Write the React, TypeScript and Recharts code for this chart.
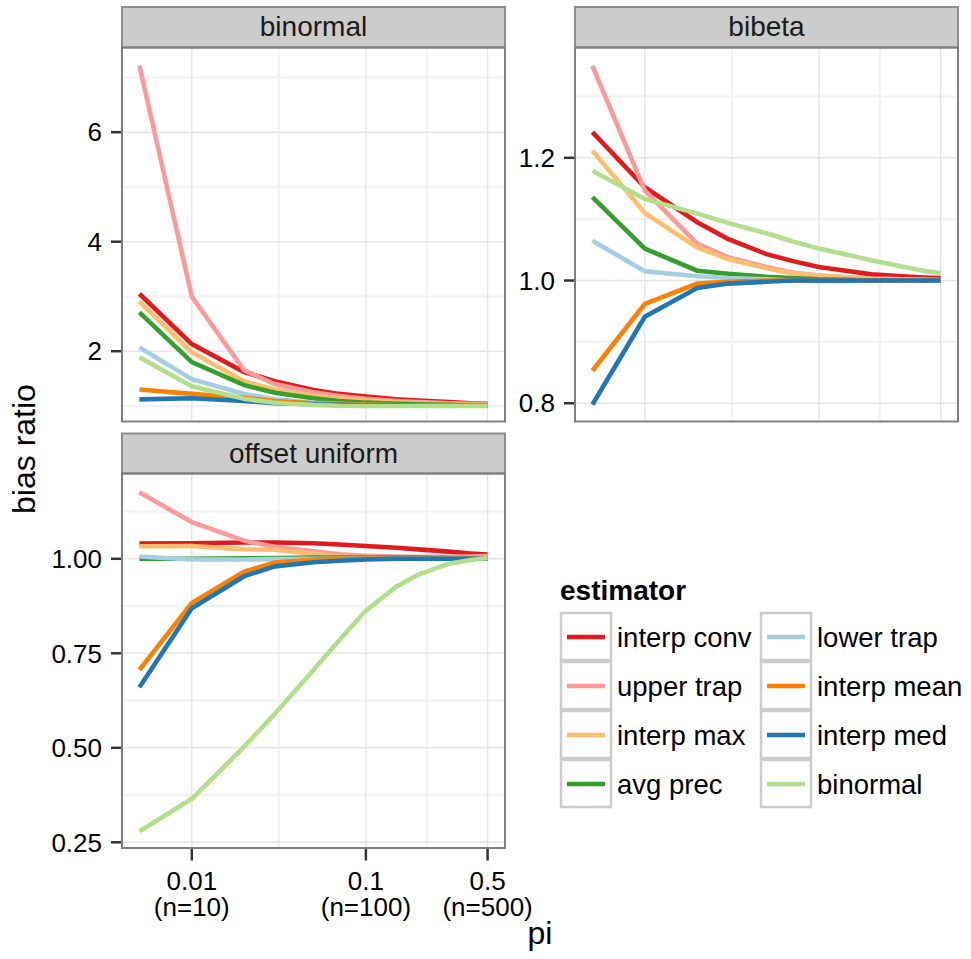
import { useMemo } from 'react'
import { LineChart, Line, XAxis, YAxis, CartesianGrid } from 'recharts'

const FONT = '"Liberation Sans", Arial, Helvetica, sans-serif'

// prevalence values along the x axis (n = pi * 1000)
const piValues = [0.005, 0.01, 0.02, 0.03, 0.05, 0.07, 0.1, 0.15, 0.2, 0.3, 0.4, 0.5]

const xTickValues = [0.01, 0.1, 0.5]
const xTickLabels = ['0.01', '0.1', '0.5']
const xTickCounts = ['(n=10)', '(n=100)', '(n=500)']

const estimatorNames = [
  'interp conv',
  'upper trap',
  'interp max',
  'avg prec',
  'lower trap',
  'interp mean',
  'interp med',
  'binormal'
]
const estimatorColors = [
  '#E31A1C',
  '#FB9A99',
  '#FDBF6F',
  '#33A02C',
  '#A6CEE3',
  '#FF7F00',
  '#1F78B4',
  '#B2DF8A'
]

// bias ratio per estimator (same order as estimatorNames), one value per pi
const binormalRatios = [
  [3.05, 2.13, 1.62, 1.45, 1.29, 1.22, 1.17, 1.12, 1.1, 1.07, 1.05, 1.04],
  [7.22, 3.0, 1.65, 1.4, 1.25, 1.18, 1.13, 1.09, 1.07, 1.05, 1.04, 1.03],
  [2.91, 1.98, 1.45, 1.3, 1.19, 1.14, 1.1, 1.07, 1.05, 1.03, 1.03, 1.02],
  [2.71, 1.8, 1.38, 1.24, 1.14, 1.09, 1.06, 1.04, 1.03, 1.02, 1.01, 1.01],
  [2.07, 1.49, 1.22, 1.12, 1.06, 1.04, 1.02, 1.01, 1.01, 1.005, 1.005, 1.005],
  [1.3, 1.22, 1.15, 1.09, 1.05, 1.03, 1.02, 1.01, 1.01, 1.005, 1.005, 1.005],
  [1.12, 1.14, 1.09, 1.05, 1.03, 1.02, 1.01, 1.01, 1.005, 1.005, 1.005, 1.005],
  [1.89, 1.36, 1.13, 1.06, 1.02, 1.005, 1.0, 1.0, 1.0, 1.0, 1.0, 1.0]
]

const bibetaRatios = [
  [1.242, 1.152, 1.095, 1.068, 1.043, 1.032, 1.022, 1.015, 1.01, 1.007, 1.005, 1.004],
  [1.35, 1.147, 1.06, 1.038, 1.022, 1.013, 1.008, 1.005, 1.003, 1.002, 1.001, 1.001],
  [1.212, 1.11, 1.054, 1.035, 1.02, 1.012, 1.008, 1.005, 1.003, 1.002, 1.001, 1.0],
  [1.136, 1.052, 1.016, 1.011, 1.006, 1.004, 1.002, 1.001, 1.0, 1.0, 1.0, 1.0],
  [1.065, 1.015, 1.007, 1.004, 1.002, 1.0, 0.999, 0.999, 1.0, 1.0, 1.0, 1.0],
  [0.853, 0.962, 0.995, 0.998, 1.0, 1.0, 1.0, 1.0, 1.0, 1.0, 1.0, 1.0],
  [0.798, 0.941, 0.988, 0.995, 0.998, 1.0, 1.0, 1.0, 1.0, 1.0, 1.0, 1.0],
  [1.179, 1.133, 1.109, 1.094, 1.077, 1.064, 1.052, 1.041, 1.033, 1.023, 1.016, 1.012]
]

const offsetUniformRatios = [
  [1.04, 1.041, 1.043, 1.043, 1.041, 1.038, 1.034, 1.029, 1.025, 1.019, 1.014, 1.011],
  [1.176, 1.097, 1.048, 1.031, 1.02, 1.012, 1.008, 1.006, 1.005, 1.005, 1.006, 1.007],
  [1.033, 1.034, 1.025, 1.024, 1.013, 1.006, 1.004, 1.003, 1.003, 1.003, 1.004, 1.005],
  [1.0, 1.0, 1.001, 1.002, 1.003, 1.003, 1.003, 1.003, 1.003, 1.002, 1.002, 1.002],
  [1.006, 0.998, 0.998, 0.999, 1.0, 1.0, 1.0, 1.0, 1.0, 1.0, 1.0, 1.0],
  [0.706, 0.883, 0.966, 0.99, 0.998, 1.0, 1.0, 1.0, 1.0, 1.0, 1.0, 1.0],
  [0.66, 0.869, 0.954, 0.98, 0.991, 0.995, 0.998, 1.0, 1.0, 1.0, 1.0, 1.0],
  [0.279, 0.365, 0.503, 0.59, 0.706, 0.784, 0.863, 0.927, 0.958, 0.987, 0.997, 1.002]
]

// log axis padded by 0.1 decade on both sides
const xDomain: [number, number] = [0.005 / Math.pow(10, 0.1), 0.5 * Math.pow(10, 0.1)]
const xMinor = [Math.pow(10, -1.5), Math.sqrt(0.05)]

const Y_AXIS_W = 100
const X_AXIS_H = 90
const RIGHT_PAD = 60

const YTick = (props: any) => {
  const { x, y, payload, format } = props
  return (
    <text x={x} y={y} dy="0.355em" textAnchor="end" fontSize={26} fill="#000" fontFamily={FONT}>
      {format(payload.value)}
    </text>
  )
}

const PiTick = (props: any) => {
  const { x, y, payload } = props
  const idx = xTickValues.indexOf(payload.value)
  return (
    <text x={x} y={y} textAnchor="middle" fontSize={26} fill="#000" fontFamily={FONT}>
      <tspan x={x} dy={29}>{xTickLabels[idx]}</tspan>
      <tspan x={x} dy={26}>{xTickCounts[idx]}</tspan>
    </text>
  )
}

interface PanelProps {
  values: number[][]
  left: number
  top: number
  width: number
  height: number
  yDomain: [number, number]
  yTicks: number[]
  yMinor: number[]
  yFormat: (v: number) => string
  showX?: boolean
}

const Panel = ({ values, left, top, width, height, yDomain, yTicks, yMinor, yFormat, showX }: PanelProps) => {
  const rows = useMemo(
    () =>
      piValues.map((pi, i) => {
        const row: Record<string, number> = { pi }
        estimatorNames.forEach((name, k) => {
          row[name] = values[k][i]
        })
        return row
      }),
    [values]
  )

  return (
    <div style={{ position: 'absolute', left: left - Y_AXIS_W, top }}>
      <LineChart
        width={Y_AXIS_W + width + RIGHT_PAD}
        height={height + (showX ? X_AXIS_H : 0)}
        data={rows}
        margin={{ top: 0, right: RIGHT_PAD, bottom: 0, left: 0 }}
      >
        <CartesianGrid stroke="#f3f3f3" strokeWidth={2.5} horizontalValues={yMinor} verticalValues={xMinor} />
        <CartesianGrid stroke="#e5e5e5" strokeWidth={1.4} horizontalValues={yTicks} verticalValues={xTickValues} />
        <XAxis
          dataKey="pi"
          type="number"
          scale="log"
          domain={xDomain}
          allowDataOverflow
          ticks={xTickValues}
          interval={0}
          hide={!showX}
          height={X_AXIS_H}
          axisLine={false}
          tickSize={12}
          tickMargin={0}
          tickLine={{ stroke: '#333', strokeWidth: 2.5 }}
          tick={(p: any) => <PiTick {...p} />}
        />
        <YAxis
          type="number"
          domain={yDomain}
          allowDataOverflow
          ticks={yTicks}
          interval={0}
          width={Y_AXIS_W}
          axisLine={false}
          tickSize={11}
          tickMargin={9}
          tickLine={{ stroke: '#333', strokeWidth: 2.5 }}
          tick={(p: any) => <YTick {...p} format={yFormat} />}
        />
        {estimatorNames.map((name, k) => (
          <Line
            key={name}
            dataKey={name}
            type="linear"
            stroke={estimatorColors[k]}
            strokeWidth={4.6}
            dot={false}
            isAnimationActive={false}
          />
        ))}
      </LineChart>
    </div>
  )
}

const panels = [
  { title: 'binormal', left: 122, top: 47.5, width: 383, height: 374, stripTop: 7 },
  { title: 'bibeta', left: 575, top: 47.5, width: 383, height: 374, stripTop: 7 },
  { title: 'offset uniform', left: 122, top: 473.5, width: 383, height: 374.5, stripTop: 433.5 }
]

export default function App() {
  return (
    <div
      style={{
        position: 'absolute',
        left: 0,
        top: 0,
        width: 971,
        height: 959,
        background: '#fff',
        overflow: 'hidden',
        fontFamily: FONT
      }}
    >
      <Panel
        values={binormalRatios}
        left={122}
        top={47.5}
        width={383}
        height={374}
        yDomain={[0.707, 7.538]}
        yTicks={[2, 4, 6]}
        yMinor={[1, 3, 5, 7]}
        yFormat={(v) => String(v)}
      />
      <Panel
        values={bibetaRatios}
        left={575}
        top={47.5}
        width={383}
        height={374}
        yDomain={[0.7694, 1.379]}
        yTicks={[0.8, 1.0, 1.2]}
        yMinor={[0.9, 1.1, 1.3]}
        yFormat={(v) => v.toFixed(1)}
      />
      <Panel
        values={offsetUniformRatios}
        left={122}
        top={473.5}
        width={383}
        height={374.5}
        yDomain={[0.2336, 1.2243]}
        yTicks={[0.25, 0.5, 0.75, 1.0]}
        yMinor={[0.375, 0.625, 0.875, 1.125]}
        yFormat={(v) => v.toFixed(2)}
        showX
      />

      <svg
        width={971}
        height={959}
        style={{ position: 'absolute', left: 0, top: 0, pointerEvents: 'none' }}
        fontFamily={FONT}
      >
        {panels.map((p) => (
          <g key={p.title}>
            <rect
              x={p.left}
              y={p.stripTop}
              width={p.width}
              height={p.top - p.stripTop}
              fill="#cccccc"
              stroke="#8c8c8c"
              strokeWidth={2}
            />
            <text
              x={p.left + p.width / 2}
              y={p.stripTop + 29}
              textAnchor="middle"
              fontSize={28}
              fill="#1a1a1a"
            >
              {p.title}
            </text>
            <rect x={p.left} y={p.top} width={p.width} height={p.height} fill="none" stroke="#7f7f7f" strokeWidth={2} />
          </g>
        ))}

        <text transform="translate(35,449) rotate(-90)" textAnchor="middle" fontSize={32} fill="#000">
          bias ratio
        </text>
        <text x={540} y={944} textAnchor="middle" fontSize={32} fill="#000">
          pi
        </text>

        <text x={560} y={600} fontSize={28} fontWeight="bold" fill="#000">
          estimator
        </text>
        {estimatorNames.map((name, k) => {
          const col = Math.floor(k / 4)
          const row = k % 4
          const bx = 561 + col * 200
          const by = 613 + row * 49
          return (
            <g key={name}>
              <rect x={bx} y={by} width={50} height={47} fill="#fff" stroke="#cccccc" strokeWidth={2.5} />
              <line x1={bx + 6} x2={bx + 44} y1={by + 24} y2={by + 24} stroke={estimatorColors[k]} strokeWidth={4.5} />
              <text x={bx + 56} y={by + 34} fontSize={27.5} fill="#000">
                {name}
              </text>
            </g>
          )
        })}
      </svg>
    </div>
  )
}
